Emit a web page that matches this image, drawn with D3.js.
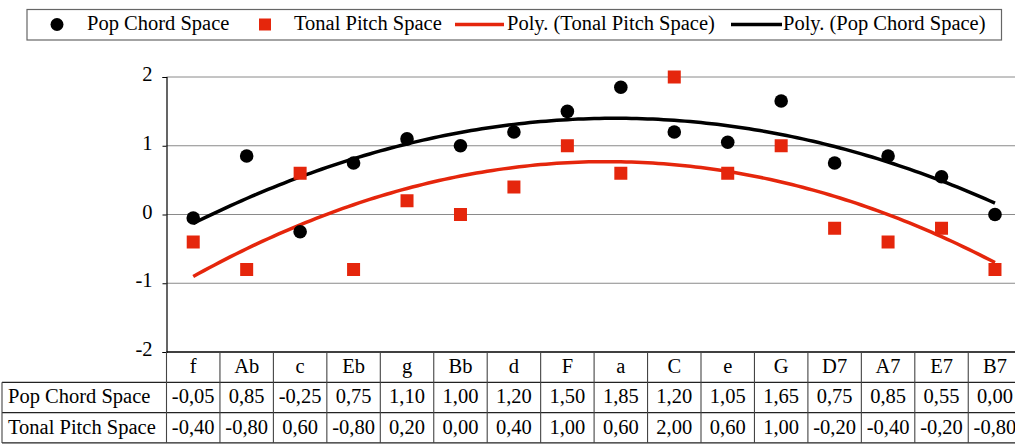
<!DOCTYPE html>
<html>
<head>
<meta charset="utf-8">
<script src="https://cdn.jsdelivr.net/npm/d3@7"></script>
<style>
  html, body { margin: 0; padding: 0; background: #fff; }
  svg { display: block; }
  svg text { font-family: "Liberation Serif", "Times New Roman", Times, serif; }
</style>
</head>
<body>
<svg id="chart" width="1015" height="444"></svg>
<script>
// Chord categories along the horizontal axis
const categories = ["f", "Ab", "c", "Eb", "g", "Bb", "d", "F", "a", "C", "e", "G", "D7", "A7", "E7", "B7"];
// Series values
const popChordSpace = [-0.05, 0.85, -0.25, 0.75, 1.10, 1.00, 1.20, 1.50, 1.85, 1.20, 1.05, 1.65, 0.75, 0.85, 0.55, 0.00];
const tonalPitchSpace = [-0.40, -0.80, 0.60, -0.80, 0.20, 0.00, 0.40, 1.00, 0.60, 2.00, 0.60, 1.00, -0.20, -0.40, -0.20, -0.80];
// Value axis ticks
const yTicks = [2, 1, 0, -1, -2];

const series = [
  { name: "Pop Chord Space", values: popChordSpace, color: "#000000" },
  { name: "Tonal Pitch Space", values: tonalPitchSpace, color: "#e5260c" }
];

const FONT = '"Liberation Serif", "Times New Roman", Times, serif';
const FS = 20.5;
const svg = d3.select("#chart");
const plotLeft = 166.5, plotRight = 1021.7, plotTop = 77, plotBottom = 352;
const rowH = 30.3;
const tableLeft = 2;

const x = d3.scaleBand().domain(categories).range([plotLeft, plotRight]);
const y = d3.scaleLinear().domain([-2, 2]).range([plotBottom, plotTop]);
const cx = c => x(c) + x.bandwidth() / 2;

// Least-squares quadratic trend (x = 1..n), as a spreadsheet "Poly." trendline
function quadFit(vals) {
  const S = [0, 0, 0, 0, 0], T = [0, 0, 0];
  vals.forEach((v, i) => {
    const t = i + 1;
    for (let k = 0; k < 5; k++) S[k] += Math.pow(t, k);
    for (let k = 0; k < 3; k++) T[k] += v * Math.pow(t, k);
  });
  const A = [[S[0], S[1], S[2], T[0]], [S[1], S[2], S[3], T[1]], [S[2], S[3], S[4], T[2]]];
  for (let i = 0; i < 3; i++) {
    for (let j = i + 1; j < 3; j++) {
      const f = A[j][i] / A[i][i];
      for (let k = i; k < 4; k++) A[j][k] -= f * A[i][k];
    }
  }
  const c = [0, 0, 0];
  for (let i = 2; i >= 0; i--) {
    let s = A[i][3];
    for (let k = i + 1; k < 3; k++) s -= A[i][k] * c[k];
    c[i] = s / A[i][i];
  }
  return t => c[0] + c[1] * t + c[2] * t * t;
}

// Gridlines
svg.append("g").selectAll("line").data(yTicks.filter(d => d > -2)).join("line")
  .attr("x1", plotLeft).attr("x2", plotRight)
  .attr("y1", d => y(d)).attr("y2", d => y(d))
  .attr("stroke", "#8a8a8a").attr("stroke-width", 1);

// Value axis
const yAxis = svg.append("g").attr("transform", `translate(${plotLeft},0)`)
  .call(d3.axisLeft(y).tickValues(yTicks).tickSize(4).tickPadding(10));
yAxis.select(".domain").attr("stroke", "#000").attr("stroke-width", 1.2);
yAxis.selectAll(".tick line").attr("stroke", "#000");
yAxis.selectAll(".tick text").attr("font-size", FS).attr("font-family", FONT).attr("fill", "#000")
  .attr("dy", "0.18em")
  .text(d => d < 0 ? "-" + Math.abs(d) : String(d));

// Trendlines
const tIdx = d3.scaleLinear().domain([1, categories.length]).range([cx(categories[0]), cx(categories[categories.length - 1])]);
[series[1], series[0]].forEach(s => {
  const f = quadFit(s.values);
  const pts = d3.range(1, categories.length + 0.001, 0.1).map(t => [tIdx(t), y(f(t))]);
  svg.append("path").attr("d", d3.line()(pts))
    .attr("fill", "none").attr("stroke", s.color).attr("stroke-width", 3.5);
});

// Markers
svg.append("g").selectAll("rect").data(tonalPitchSpace).join("rect")
  .attr("x", (d, i) => cx(categories[i]) - 6.5).attr("y", d => y(d) - 6.5)
  .attr("width", 13).attr("height", 13).attr("fill", series[1].color);
svg.append("g").selectAll("circle").data(popChordSpace).join("circle")
  .attr("cx", (d, i) => cx(categories[i])).attr("cy", d => y(d))
  .attr("r", 6.8).attr("fill", series[0].color);

// Data table under the plot
const table = svg.append("g").attr("font-family", FONT);
const fmt = v => v.toFixed(2).replace(".", ",");
const rowsTop = plotBottom;
[rowsTop + rowH, rowsTop + 2 * rowH, rowsTop + 3 * rowH].forEach(yy => {
  table.append("line").attr("x1", tableLeft).attr("x2", plotRight)
    .attr("y1", yy).attr("y2", yy).attr("stroke", "#222").attr("stroke-width", 1.2);
});
table.append("line").attr("x1", plotLeft).attr("x2", plotRight)
  .attr("y1", rowsTop).attr("y2", rowsTop).attr("stroke", "#000").attr("stroke-width", 1.4);
categories.forEach(c => {
  table.append("line").attr("x1", x(c)).attr("x2", x(c))
    .attr("y1", rowsTop).attr("y2", rowsTop + 3 * rowH)
    .attr("stroke", "#444").attr("stroke-width", 1.1);
});
table.append("line").attr("x1", tableLeft).attr("x2", tableLeft)
  .attr("y1", rowsTop + rowH).attr("y2", rowsTop + 3 * rowH).attr("stroke", "#444").attr("stroke-width", 1.1);
table.selectAll("text.cat").data(categories).join("text").attr("class", "cat")
  .attr("x", d => cx(d)).attr("y", rowsTop + 21).attr("text-anchor", "middle")
  .attr("font-size", FS).text(d => d);
series.forEach((s, r) => {
  const yy = rowsTop + rowH * (r + 1) + 21;
  table.append("text").attr("x", tableLeft + 6).attr("y", yy).attr("font-size", FS).text(s.name);
  table.selectAll(null).data(s.values).join("text")
    .attr("x", (d, i) => cx(categories[i])).attr("y", yy).attr("text-anchor", "middle")
    .attr("font-size", FS).text(d => fmt(d));
});

// Legend
const legend = svg.append("g").attr("font-family", FONT);
legend.append("rect").attr("x", 27).attr("y", 9.5).attr("width", 974.5).attr("height", 30.5)
  .attr("fill", "#fff").attr("stroke", "#666").attr("stroke-width", 1.2);
const ly = 24.5;
const legendItems = [
  { kind: "circle", color: series[0].color, sx: 57, tx: 87, label: "Pop Chord Space" },
  { kind: "square", color: series[1].color, sx: 265, tx: 294, label: "Tonal Pitch Space" },
  { kind: "line", color: series[1].color, sx: 455, ex: 504, tx: 507, label: "Poly. (Tonal Pitch Space)" },
  { kind: "line", color: series[0].color, sx: 731, ex: 782, tx: 783, label: "Poly. (Pop Chord Space)" }
];
legendItems.forEach(it => {
  if (it.kind === "circle") legend.append("circle").attr("cx", it.sx).attr("cy", ly).attr("r", 6.5).attr("fill", it.color);
  else if (it.kind === "square") legend.append("rect").attr("x", it.sx - 6).attr("y", ly - 6).attr("width", 12).attr("height", 12).attr("fill", it.color);
  else legend.append("line").attr("x1", it.sx).attr("x2", it.ex).attr("y1", ly).attr("y2", ly).attr("stroke", it.color).attr("stroke-width", 3.5);
  legend.append("text").attr("x", it.tx).attr("y", 29.5).attr("font-size", FS).text(it.label);
});
</script>
</body>
</html>
